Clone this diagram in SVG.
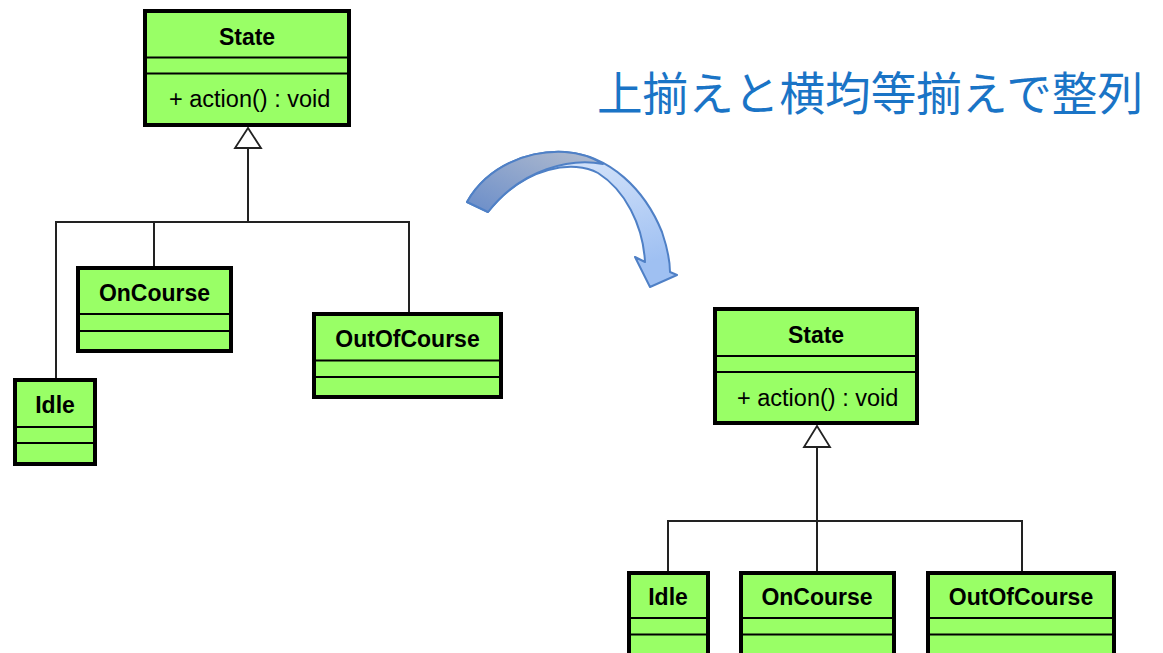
<svg xmlns="http://www.w3.org/2000/svg" width="1163" height="653" viewBox="0 0 1163 653">
  <defs>
    <style>
      .box { fill: #99ff66; stroke: #000; stroke-width: 4; }
      .sep { stroke: #000; stroke-width: 2; }
      .name { font-family: "Liberation Sans", Arial, sans-serif; font-weight: bold; font-size: 23px; text-anchor: middle; fill: #000; }
      .op { font-family: "Liberation Sans", Arial, sans-serif; font-size: 23.5px; fill: #000; }
      .wire { fill: none; stroke: #222; stroke-width: 2; }
      .gen { fill: #fff; stroke: #222; stroke-width: 1.8; stroke-linejoin: miter; }
      .title { font-family: "Noto Sans CJK JP", "Noto Sans CJK SC", sans-serif; font-size: 46px; fill: #1a74c6; }
    </style>
    <linearGradient id="backFace" x1="0" y1="0" x2="0.4" y2="1">
      <stop offset="0" stop-color="#e3edfc"/>
      <stop offset="1" stop-color="#9fc0f2"/>
    </linearGradient>
    <linearGradient id="frontFace" x1="0" y1="1" x2="1" y2="0">
      <stop offset="0" stop-color="#6a8dc9"/>
      <stop offset="1" stop-color="#b3bdcf"/>
    </linearGradient>
  </defs>

  <!-- heading -->
  <text class="title" x="597" y="110" textLength="546" lengthAdjust="spacingAndGlyphs">上揃えと横均等揃えで整列</text>

  <!-- curved arrow between the two layouts -->
  <g id="curved-arrow">
    <path d="M467,202 C488,165 530,150 565,152 C610,155 645,190 662,232 C668,250 670,262 670,272 L677,275 L650,287 L635,257 L645,262 C643,225 625,190 598,173 C575,160 525,165 488,212 Z"
          fill="url(#backFace)" stroke="#4f80c6" stroke-width="2" stroke-linejoin="round"/>
    <path d="M467,202 C488,165 530,150 565,152 C580,153 592,157 603,164 C572,158 522,168 488,212 Z"
          fill="url(#frontFace)" stroke="#4f80c6" stroke-width="2" stroke-linejoin="round"/>
  </g>

  <!-- connectors -->
  <g id="connectors">
    <!-- left layout -->
    <path class="wire" d="M248,148 V222 M56,378 V222 H409 V312 M154,222 V266"/>
    <polygon class="gen" points="248,128 235,148 261,148"/>
    <!-- right layout -->
    <path class="wire" d="M817,447 V571 M668,571 V521 H1022 V571"/>
    <polygon class="gen" points="817,426 804,447 830,447"/>
  </g>

  <!-- left layout classes -->
  <g id="state-left">
    <rect class="box" x="145" y="11" width="204" height="114"/>
    <line class="sep" x1="145" y1="57.5" x2="349" y2="57.5"/>
    <line class="sep" x1="145" y1="73.5" x2="349" y2="73.5"/>
    <text class="name" x="247" y="45">State</text>
    <text class="op" x="169" y="107">+ action() : void</text>
  </g>
  <g id="oncourse-left">
    <rect class="box" x="78" y="268" width="153" height="83"/>
    <line class="sep" x1="78" y1="314" x2="231" y2="314"/>
    <line class="sep" x1="78" y1="331" x2="231" y2="331"/>
    <text class="name" x="154.5" y="301">OnCourse</text>
  </g>
  <g id="outofcourse-left">
    <rect class="box" x="314" y="314" width="187" height="83"/>
    <line class="sep" x1="314" y1="360.5" x2="501" y2="360.5"/>
    <line class="sep" x1="314" y1="377" x2="501" y2="377"/>
    <text class="name" x="407.5" y="347">OutOfCourse</text>
  </g>
  <g id="idle-left">
    <rect class="box" x="15" y="380" width="80" height="84"/>
    <line class="sep" x1="15" y1="427" x2="95" y2="427"/>
    <line class="sep" x1="15" y1="443" x2="95" y2="443"/>
    <text class="name" x="55" y="413">Idle</text>
  </g>

  <!-- right layout classes -->
  <g id="state-right">
    <rect class="box" x="715" y="309" width="202" height="114"/>
    <line class="sep" x1="715" y1="356" x2="917" y2="356"/>
    <line class="sep" x1="715" y1="372" x2="917" y2="372"/>
    <text class="name" x="816" y="343">State</text>
    <text class="op" x="737" y="406">+ action() : void</text>
  </g>
  <g id="idle-right">
    <rect class="box" x="629" y="573" width="79" height="83"/>
    <line class="sep" x1="629" y1="618" x2="708" y2="618"/>
    <line class="sep" x1="629" y1="634.5" x2="708" y2="634.5"/>
    <text class="name" x="668" y="605">Idle</text>
  </g>
  <g id="oncourse-right">
    <rect class="box" x="741" y="573" width="153" height="83"/>
    <line class="sep" x1="741" y1="618" x2="894" y2="618"/>
    <line class="sep" x1="741" y1="634.5" x2="894" y2="634.5"/>
    <text class="name" x="817" y="605">OnCourse</text>
  </g>
  <g id="outofcourse-right">
    <rect class="box" x="928" y="573" width="186" height="83"/>
    <line class="sep" x1="928" y1="618" x2="1114" y2="618"/>
    <line class="sep" x1="928" y1="634.5" x2="1114" y2="634.5"/>
    <text class="name" x="1021" y="605">OutOfCourse</text>
  </g>
</svg>
